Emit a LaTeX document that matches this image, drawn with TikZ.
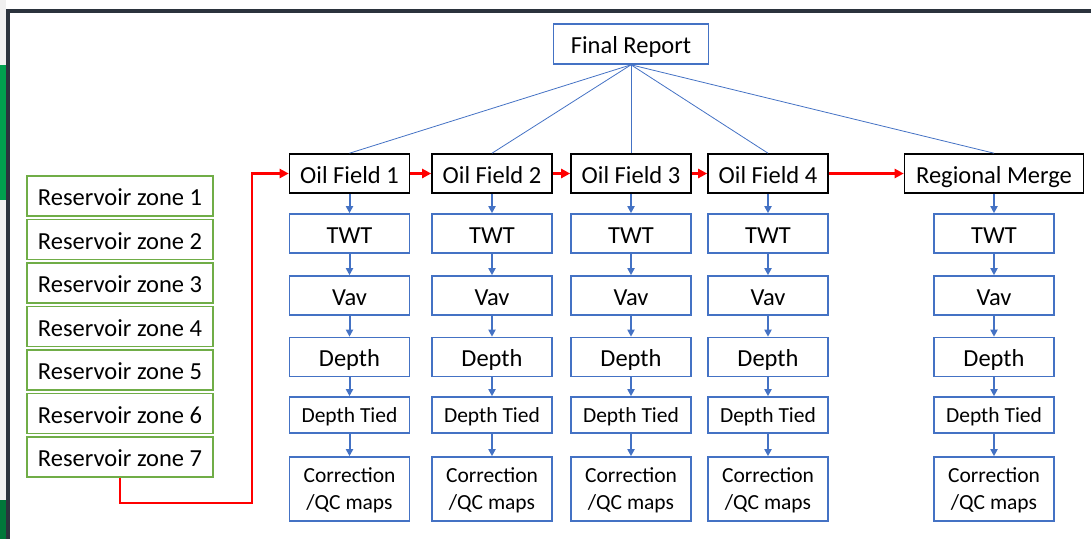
\documentclass[tikz,border=0pt]{standalone}
\usepackage{fontspec}
\setmainfont{Carlito}
\usetikzlibrary{arrows.meta}
\definecolor{flowblue}{HTML}{4472C4}
\definecolor{zonegreen}{HTML}{70AD47}
\definecolor{framedark}{HTML}{2B333D}
\definecolor{stripgreen}{HTML}{00A04E}
\definecolor{stripdark}{HTML}{00773A}
\begin{document}
\begin{tikzpicture}[x=1pt,y=-1pt,
    basebox/.style={draw, line width=1.6pt, inner sep=0pt, align=center,
        font=\fontsize{24.5}{29}\selectfont, text height=20pt, text depth=1pt},
    hdrbox/.style={basebox, draw=black, minimum height=39pt},
    stepbox/.style={basebox, draw=flowblue, minimum width=120pt, minimum height=39pt},
    smallbox/.style={stepbox, font=\fontsize{21.5}{27}\selectfont,
        text height=16pt, text depth=1.2pt},
    mapbox/.style={smallbox, text height=42pt, text depth=1.4pt},
    zonebox/.style={basebox, draw=zonegreen, minimum width=186pt, minimum height=40pt},
    flow/.style={draw=flowblue, line width=2pt, -{Triangle[length=7pt,width=7pt]}},
    redflow/.style={draw=red, line width=2.4pt, -{Triangle[length=9pt,width=9pt]}},
    tie/.style={draw=flowblue, line width=0.8pt}]
    \useasboundingbox (0,0) rectangle (1091,539);
    % screenshot edges
    \fill[gray!12] (0,0) rectangle (6,539);
    \fill[stripgreen] (0,65) rectangle (6,200);
    \fill[stripdark] (0,500) rectangle (6,539);
    \fill[framedark] (6,9) rectangle (1091,12.5);
    \fill[framedark] (6,9) rectangle (9.5,539);

    \node[stepbox, minimum width=155pt, minimum height=40pt] (rep) at (631,44) {Final Report};

    % reservoir zones
    \foreach \i in {1,...,7} {
        \node[zonebox] (z\i) at (120,{196+43.5*(\i-1)}) {Reservoir zone \i};
    }

    % one column per field
    \foreach \x/\n/\w/\name in {349.5/1/120/Oil Field 1, 492/2/120/Oil Field 2,
        631/3/120/Oil Field 3, 768/4/120/Oil Field 4, 994/5/179/Regional Merge} {
        \node[hdrbox, minimum width=\w pt] (h\n) at (\x,173.5) {\name};
        \node[stepbox] (t\n) at (\x,233.5) {TWT};
        \node[stepbox] (v\n) at (\x,295.5) {Vav};
        \node[stepbox] (d\n) at (\x,357) {Depth};
        \node[smallbox, minimum height=36pt] (dt\n) at (\x,415) {Depth Tied};
        \node[mapbox, minimum height=64pt] (c\n) at (\x,489) {Correction\\/QC maps};
        \draw[flow] (h\n) -- (t\n);
        \draw[flow] (t\n) -- (v\n);
        \draw[flow] (v\n) -- (d\n);
        \draw[flow] (d\n) -- (dt\n);
        \draw[flow] (dt\n) -- (c\n);
        \draw[tie] (rep.south) -- (h\n.north);
    }

    % red chain
    \coordinate (bend) at (252,503);
    \draw[redflow] (z7.south) |- (bend) |- (h1.west);
    \foreach \a/\b in {1/2, 2/3, 3/4, 4/5} {
        \draw[redflow] (h\a.east) -- (h\b.west);
    }
\end{tikzpicture}
\end{document}
